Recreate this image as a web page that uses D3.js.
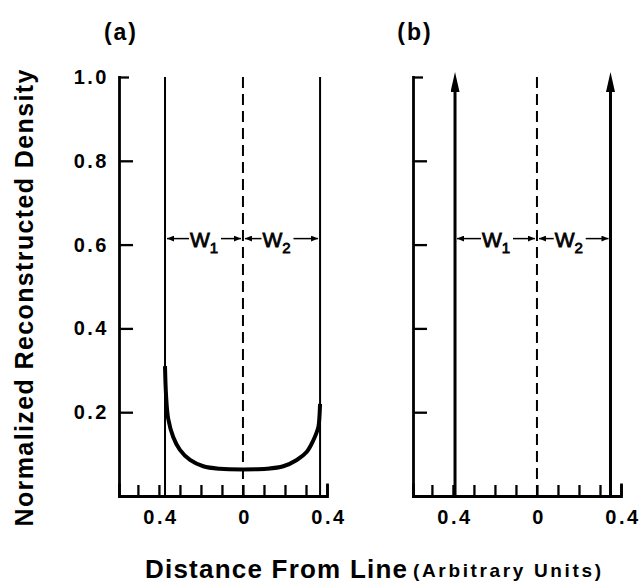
<!DOCTYPE html>
<html>
<head>
<meta charset="utf-8">
<script src="https://cdn.jsdelivr.net/npm/d3@7"></script>
<style>
  body { margin: 0; background: #fff; }
  svg text { font-family: "Liberation Sans", Arial, sans-serif; fill: #000; font-weight: bold; }
</style>
</head>
<body>
<svg id="chart" width="641" height="583"></svg>
<script>
// values
const yTicks = [0.2, 0.4, 0.6, 0.8, 1.0];
const xTicks = [-0.5, -0.4, -0.3, -0.2, -0.1, 0, 0.1, 0.2, 0.3, 0.4];
const xLabelled = [-0.4, 0, 0.4];
const panelNames = ["(a)", "(b)"];
const edgesA = [-0.371, 0.367];
const edgesB = [-0.39, 0.35];
const curveX = [-0.371, -0.366, -0.356, -0.332, -0.30, -0.252, -0.189, -0.11, 0, 0.113, 0.192, 0.256, 0.303, 0.335, 0.359, 0.364, 0.367];
const curveY = [0.31, 0.24, 0.185, 0.141, 0.110, 0.086, 0.071, 0.065, 0.0635, 0.065, 0.071, 0.086, 0.105, 0.133, 0.165, 0.19, 0.22];
const widthLabels = ["1", "2"];
const labelLevel = 0.6;

const svg = d3.select('#chart');
svg.append('rect').attr('width', 641).attr('height', 583).attr('fill', '#fff');

const defs = svg.append('defs');
defs.append('marker')
    .attr('id', 'small').attr('markerUnits', 'userSpaceOnUse')
    .attr('markerWidth', 8).attr('markerHeight', 6)
    .attr('refX', 7).attr('refY', 3).attr('orient', 'auto')
    .append('path').attr('d', 'M0,0L7,3L0,6Z').attr('fill', '#000');
defs.append('marker')
    .attr('id', 'big').attr('markerUnits', 'userSpaceOnUse')
    .attr('markerWidth', 20).attr('markerHeight', 9)
    .attr('refX', 10).attr('refY', 4.5).attr('orient', 'auto')
    .append('path').attr('d', 'M0,0L20,4.5L0,9Z').attr('fill', '#000');

let y = d3.scaleLinear().domain([0, 1]).range([496, 77]);
let x = d3.scaleLinear().domain([-0.59, 0.4]).range([0, 208]);

function drawPanel(left, name, showY) {
    let g = svg.append('g').attr('transform', `translate(${left},0)`);

    let yAxis = d3.axisLeft(y)
        .tickValues(yTicks)
        .tickSizeInner(-14)
        .tickSizeOuter(0)
        .tickPadding(10)
        .tickFormat(d => showY ? d3.format('.1f')(d) : '');
    let gy = g.append('g').call(yAxis);
    gy.selectAll('.tick').filter(d => d === 1).select('line').attr('x2', 10);

    let xAxis = d3.axisBottom(x)
        .tickValues(xTicks)
        .tickSizeInner(-11)
        .tickSizeOuter(-11)
        .tickPadding(14)
        .tickFormat(d => xLabelled.includes(d) ? (d === 0 ? '0' : String(Math.abs(d))) : '');
    let gx = g.append('g').attr('transform', `translate(0,${y(0)})`).call(xAxis);

    [gy, gx].forEach(a => {
        a.attr('font-family', null).attr('font-size', null);
        a.select('.domain').attr('stroke-width', 2.8).attr('stroke-linecap', 'square');
        a.selectAll('.tick line').attr('stroke-width', 2.3);
        a.selectAll('text')
            .style('font-size', '20px')
            .style('letter-spacing', '2.5px');
    });
    gx.selectAll('text').attr('dx', '1.5');

    g.append('text')
        .attr('x', x(0) - 122).attr('y', 40)
        .attr('text-anchor', 'middle')
        .style('font-size', '23px').style('letter-spacing', '2px')
        .text(name);

    // centre line
    g.append('line')
        .attr('x1', x(0)).attr('x2', x(0))
        .attr('y1', y(1)).attr('y2', y(0))
        .attr('stroke', '#000').attr('stroke-width', 2)
        .attr('stroke-dasharray', '11,6');
    return g;
}

function widthMarks(g, edges) {
    let yy = y(labelLevel) - 6;
    let halves = [[edges[0], 0], [0, edges[1]]];
    halves.forEach((h, i) => {
        let a = x(h[0]), b = x(h[1]);
        let mid = (a + b) / 2 + (i === 1 ? -5 : 0);
        let t = g.append('text')
            .attr('x', mid).attr('y', yy + 8)
            .attr('text-anchor', 'middle')
            .style('font-size', '21px').style('font-weight', 'normal')
            .attr('stroke', '#000').attr('stroke-width', 0.8);
        t.append('tspan').text('W');
        t.append('tspan').attr('dy', 6).style('font-size', '15px').text(widthLabels[i]);
        let half = 15;
        g.append('line')
            .attr('x1', mid - half).attr('x2', a + 2)
            .attr('y1', yy).attr('y2', yy)
            .attr('stroke', '#000').attr('stroke-width', 1.5)
            .attr('marker-end', 'url(#small)');
        g.append('line')
            .attr('x1', mid + half + 2).attr('x2', b - 2)
            .attr('y1', yy).attr('y2', yy)
            .attr('stroke', '#000').attr('stroke-width', 1.5)
            .attr('marker-end', 'url(#small)');
    });
}

// panel (a)
let ga = drawPanel(119, panelNames[0], true);
ga.selectAll('.edge')
    .data(edgesA)
    .enter().append('line')
    .attr('class', 'edge')
    .attr('x1', d => x(d)).attr('x2', d => x(d))
    .attr('y1', y(1)).attr('y2', y(0))
    .attr('stroke', '#000').attr('stroke-width', 2);

let pts = curveX.map((v, i) => [v, curveY[i]]);
let line = d3.line().x(d => x(d[0])).y(d => y(d[1])).curve(d3.curveCatmullRom.alpha(0.5));
ga.append('path')
    .attr('d', line(pts))
    .attr('fill', 'none').attr('stroke', '#000')
    .attr('stroke-width', 4).attr('stroke-linejoin', 'round');
widthMarks(ga, edgesA);

// panel (b)
let gb = drawPanel(413, panelNames[1], false);
gb.selectAll('.spike')
    .data(edgesB)
    .enter().append('line')
    .attr('class', 'spike')
    .attr('x1', d => x(d)).attr('x2', d => x(d))
    .attr('y1', y(0)).attr('y2', y(1) + 5)
    .attr('stroke', '#000').attr('stroke-width', 3)
    .attr('marker-end', 'url(#big)');
widthMarks(gb, edgesB);

// axis titles
svg.append('text')
    .attr('transform', 'translate(33,298) rotate(-90)')
    .attr('text-anchor', 'middle')
    .attr('textLength', 457).attr('lengthAdjust', 'spacing')
    .style('font-size', '25px')
    .text('Normalized Reconstructed Density');

svg.append('text')
    .attr('x', 145).attr('y', 578)
    .attr('textLength', 262).attr('lengthAdjust', 'spacing')
    .style('font-size', '26px')
    .text('Distance From Line');
svg.append('text')
    .attr('x', 413).attr('y', 577)
    .attr('textLength', 188).attr('lengthAdjust', 'spacing')
    .style('font-size', '19px')
    .text('(Arbitrary Units)');
</script>
</body>
</html>
